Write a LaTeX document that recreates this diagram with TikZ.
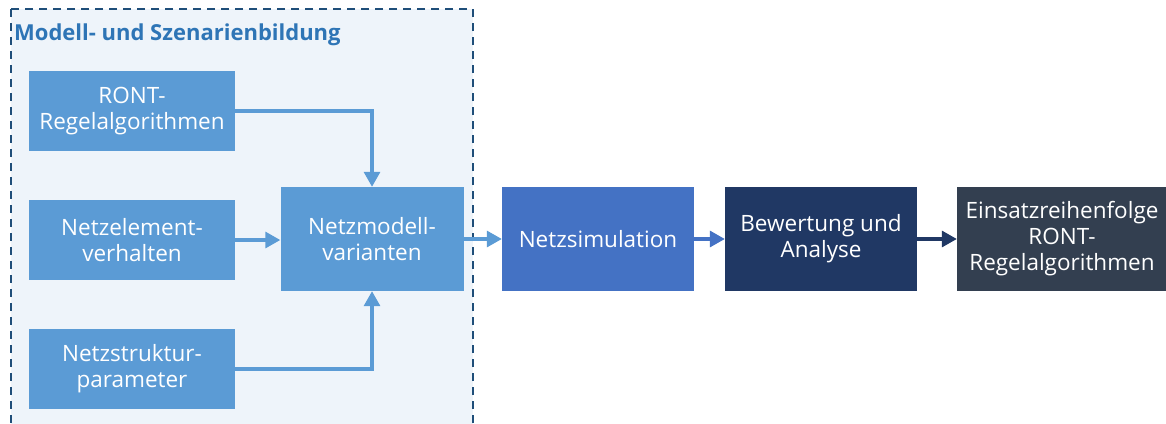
\documentclass[tikz,border=0pt]{standalone}
\usepackage{fontspec}
\setmainfont{Open Sans}
\usetikzlibrary{arrows.meta}
\definecolor{lightbox}{HTML}{5B9BD5}
\definecolor{bgfill}{HTML}{EEF4FA}
\definecolor{dashcol}{HTML}{1F4E79}
\definecolor{simcol}{HTML}{4472C4}
\definecolor{evalcol}{HTML}{203864}
\definecolor{outcol}{HTML}{333F50}
\definecolor{titlecol}{HTML}{2E75B6}
\tikzset{
  box/.style={draw=none, fill=#1, text=white, align=center, inner sep=0pt,
    font=\fontsize{22.5}{26}\selectfont},
  conn/.style={draw=#1, line width=3.2pt, -{Triangle[length=15pt,width=16pt]}},
}
\begin{document}
\begin{tikzpicture}[x=1pt,y=-1pt]
\useasboundingbox (0,0) rectangle (1166,423);
\clip (0,0) rectangle (1166,423);
\fill[white] (0,0) rectangle (1166,423);
\draw[fill=bgfill, draw=dashcol, line width=2pt, dash pattern=on 8pt off 6pt] (11,9) rectangle (473,440);
\node[anchor=west, text=titlecol, font=\bfseries\fontsize{22}{26}\selectfont, inner sep=0pt] (title) at (14,35) {Modell- und Szenarienbildung};
\node[box=lightbox, minimum width=206pt, minimum height=80pt] (ront) at (132,111) {RONT-\\Regelalgorithmen};
\node[box=lightbox, minimum width=206pt, minimum height=80pt] (elem) at (132,240) {Netzelement-\\verhalten};
\node[box=lightbox, minimum width=206pt, minimum height=80pt] (struk) at (132,369) {Netzstruktur-\\parameter};
\node[box=lightbox, minimum width=183pt, minimum height=104pt] (modell) at (372,239) {Netzmodell-\\varianten};
\node[box=simcol, minimum width=192pt, minimum height=104pt] (sim) at (598,239) {Netzsimulation};
\node[box=evalcol, minimum width=192pt, minimum height=104pt] (eval) at (821,239) {Bewertung und\\Analyse};
\node[box=outcol, minimum width=210pt, minimum height=104pt] (out) at (1062,239) {Einsatzreihenfolge\\RONT-\\Regelalgorithmen};
\draw[conn=lightbox] (ront.east) -| (modell.north);
\draw[conn=lightbox] (struk.east) -| (modell.south);
\draw[conn=lightbox] (elem.east) -- (elem.east -| modell.west);
\draw[conn=lightbox] (modell.east) -- (sim.west);
\draw[conn=simcol] (sim.east) -- (eval.west);
\draw[conn=evalcol] (eval.east) -- (out.west);
\end{tikzpicture}
\end{document}
